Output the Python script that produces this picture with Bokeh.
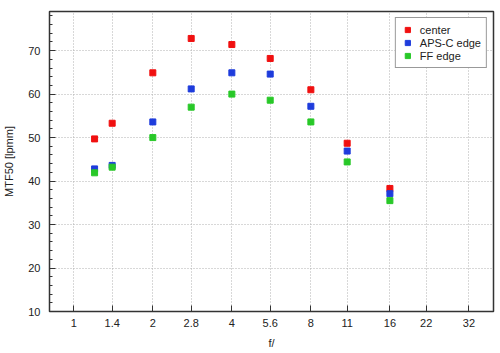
from bokeh.plotting import figure
from bokeh.models import FixedTicker, SingleIntervalTicker, Range1d, Legend, LegendItem
from bokeh.embed import file_html
from bokeh.resources import INLINE

f_stops = [1.2, 1.4, 2, 2.8, 4, 5.6, 8, 11, 16]
center = [49.7, 53.3, 64.9, 72.8, 71.4, 68.2, 61.0, 48.7, 38.3]
aps_c_edge = [42.8, 43.6, 53.6, 61.2, 64.9, 64.6, 57.2, 46.9, 37.1]
ff_edge = [41.9, 43.2, 50.0, 57.0, 60.0, 58.6, 53.6, 44.4, 35.5]
x_ticks = [1, 1.4, 2, 2.8, 4, 5.6, 8, 11, 16, 22, 32]
x_tick_labels = ["1", "1.4", "2", "2.8", "4", "5.6", "8", "11", "16", "22", "32"]
series_names = ["center", "APS-C edge", "FF edge"]
series_colors = ["#f01010", "#1e3cdc", "#28c828"]

FONT = "Liberation Sans"
FG = "#333333"

p = figure(width=500, height=353, x_axis_type="log",
           x_range=Range1d(0.808, 39.7), y_range=Range1d(10, 79),
           output_backend="svg", toolbar_location=None,
           min_border_left=49, min_border_right=7, min_border_top=11, min_border_bottom=42,
           background_fill_color="white", border_fill_color="white")

p.outline_line_color = FG
p.outline_line_width = 1.5

items = []
for name, vals, col in zip(series_names, [center, aps_c_edge, ff_edge], series_colors):
    r = p.scatter(f_stops, vals, marker="square", size=6, fill_color=col, line_color=col)
    items.append(LegendItem(label=name, renderers=[r]))

# x axis
p.xaxis.ticker = FixedTicker(ticks=x_ticks, minor_ticks=[])
p.xaxis.major_label_overrides = {t: lab for t, lab in zip(x_ticks, x_tick_labels)}
p.xaxis.axis_label = "f/"
# y axis
p.yaxis.ticker = SingleIntervalTicker(interval=10, num_minor_ticks=5)
p.yaxis.axis_label = "MTF50 [lpmm]"

for ax in [p.xaxis[0], p.yaxis[0]]:
    ax.axis_line_color = FG
    ax.major_tick_line_color = FG
    ax.minor_tick_line_color = FG
    ax.major_tick_in = 6
    ax.major_tick_out = 0
    ax.minor_tick_in = 3
    ax.minor_tick_out = 0
    ax.major_label_text_font = FONT
    ax.major_label_text_font_size = "11px"
    ax.major_label_text_color = "#222222"
    ax.axis_label_text_font = FONT
    ax.axis_label_text_font_size = "11px"
    ax.axis_label_text_font_style = "normal"
    ax.axis_label_text_color = "#222222"

p.xaxis.major_label_standoff = 7
p.xaxis.axis_label_standoff = 7
p.yaxis.major_label_standoff = 9
p.yaxis.axis_label_standoff = 10

for g in [p.xgrid[0], p.ygrid[0]]:
    g.grid_line_color = "#b0b0b0"
    g.grid_line_dash = "1 2"
    g.grid_line_width = 1

legend = Legend(items=items, location="top_right", margin=6,
                padding=5, spacing=0, glyph_width=13, glyph_height=13,
                label_height=13, label_standoff=6,
                label_text_font=FONT, label_text_font_size="11px",
                label_text_color="#222222",
                border_line_color=FG, border_line_width=1.5,
                background_fill_color="white", background_fill_alpha=1.0)
p.add_layout(legend)

open("out.html", "w").write(file_html(p, INLINE))
